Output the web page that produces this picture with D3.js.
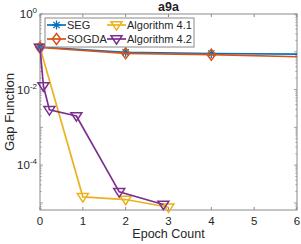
<!DOCTYPE html>
<html>
<head>
<meta charset="utf-8">
<script src="https://cdn.jsdelivr.net/npm/d3@7"></script>
<style>
  body { margin: 0; background: #fff; }
  text { font-family: "Liberation Sans", Arial, sans-serif; fill: #262626; }
</style>
</head>
<body>
<div id="chart"></div>
<script>
const W = 301, H = 244;
const M = { top: 14, right: 4, bottom: 34, left: 40 };

// data
const segEpoch = [0, 2, 4, 6];
const segGap = [0.134, 0.097, 0.09, 0.087];

const sogdaEpoch = [0, 2, 4, 6];
const sogdaGap = [0.13, 0.091, 0.084, 0.074];

const alg41Epoch = [0, 1, 2, 3];
const alg41Gap = [0.13, 1.45e-5, 1.23e-5, 7.7e-6];

const alg42Epoch = [0, 0.08, 0.22, 0.85, 1.85, 2.88];
const alg42Gap = [0.13, 0.0124, 2.9e-3, 2.0e-3, 1.96e-5, 9.1e-6];

const xTicks = [0, 1, 2, 3, 4, 5, 6];
const yLabelExp = [0, -2, -4];

const series = [
  { name: "SEG", color: "#0072BD", marker: "star", x: segEpoch, y: segGap },
  { name: "SOGDA", color: "#D95319", marker: "diamond", x: sogdaEpoch, y: sogdaGap },
  { name: "Algorithm 4.1", color: "#EDB120", marker: "tri", x: alg41Epoch, y: alg41Gap },
  { name: "Algorithm 4.2", color: "#7E2F8E", marker: "tri", x: alg42Epoch, y: alg42Gap }
];

const svg = d3.select("#chart").append("svg")
  .attr("width", W).attr("height", H);

const x = d3.scaleLinear().domain([0, 6]).range([M.left, W - M.right]);
const y = d3.scaleLog().domain([1, 6.5e-6]).range([M.top, H - M.bottom]);

const x0 = x.range()[0], x1 = x.range()[1];
const y0 = y.range()[0], y1 = y.range()[1];

svg.append("defs").append("clipPath").attr("id", "clip")
  .append("rect").attr("x", x0).attr("y", y0).attr("width", x1 - x0).attr("height", y1 - y0);

// axes box
const axCol = "#8a8a8a";
svg.append("rect").attr("x", x0).attr("y", y0).attr("width", x1 - x0).attr("height", y1 - y0)
  .attr("fill", "none").attr("stroke", axCol).attr("stroke-width", 1);

// x ticks (inside, top and bottom)
xTicks.forEach(t => {
  svg.append("line").attr("x1", x(t)).attr("x2", x(t)).attr("y1", y1).attr("y2", y1 - 3)
    .attr("stroke", axCol);
  svg.append("line").attr("x1", x(t)).attr("x2", x(t)).attr("y1", y0).attr("y2", y0 + 3)
    .attr("stroke", axCol);
  svg.append("text").attr("x", x(t)).attr("y", y1 + 15)
    .attr("text-anchor", "middle").attr("font-size", 11.5).text(t);
});

// y ticks, major and minor, log
for (let e = 0; e >= -6; e--) {
  for (let k = 1; k <= 9; k++) {
    const v = k * Math.pow(10, e);
    if (v > 1 || v < 6.5e-6) continue;
    const len = k === 1 ? 3 : 1.6;
    svg.append("line").attr("x1", x0).attr("x2", x0 + len).attr("y1", y(v)).attr("y2", y(v))
      .attr("stroke", axCol).attr("stroke-width", 0.8);
    svg.append("line").attr("x1", x1).attr("x2", x1 - len).attr("y1", y(v)).attr("y2", y(v))
      .attr("stroke", axCol).attr("stroke-width", 0.8);
  }
}

yLabelExp.forEach(e => {
  const t = svg.append("text").attr("x", x0 - 3).attr("y", y(Math.pow(10, e)) + 4)
    .attr("text-anchor", "end").attr("font-size", 11.5);
  t.append("tspan").text("10");
  t.append("tspan").attr("font-size", 8).attr("dy", -5).text(e);
});

// title and axis labels
svg.append("text").attr("x", (x0 + x1) / 2).attr("y", 11)
  .attr("text-anchor", "middle").attr("font-size", 12.5).attr("font-weight", "bold").text("a9a");
svg.append("text").attr("x", (x0 + x1) / 2).attr("y", 238)
  .attr("text-anchor", "middle").attr("font-size", 12.5).text("Epoch Count");
svg.append("text").attr("transform", `translate(14,${(y0 + y1) / 2}) rotate(-90)`)
  .attr("text-anchor", "middle").attr("font-size", 13).text("Gap Function");

// markers
function drawMarker(g, kind, cx, cy, color) {
  if (kind === "star") {
    const r = 4.5, d = r * 0.7;
    g.append("path")
      .attr("d", `M${cx - r},${cy}L${cx + r},${cy}M${cx},${cy - r}L${cx},${cy + r}` +
        `M${cx - d},${cy - d}L${cx + d},${cy + d}M${cx - d},${cy + d}L${cx + d},${cy - d}`)
      .attr("stroke", color).attr("stroke-width", 1.3).attr("fill", "none");
  } else if (kind === "diamond") {
    const r = 5.5;
    g.append("path")
      .attr("d", `M${cx},${cy - r}L${cx + r * 0.75},${cy}L${cx},${cy + r}L${cx - r * 0.75},${cy}Z`)
      .attr("stroke", color).attr("stroke-width", 1.5).attr("fill", "none");
  } else {
    const r = 5.5;
    g.append("path")
      .attr("d", `M${cx - r},${cy - r * 0.6}L${cx + r},${cy - r * 0.6}L${cx},${cy + r * 0.95}Z`)
      .attr("stroke", color).attr("stroke-width", 1.5).attr("fill", "none")
      .attr("stroke-linejoin", "miter");
  }
}

const line = d3.line().x(d => x(d[0])).y(d => y(d[1]));
const plot = svg.append("g");

series.forEach(s => {
  const pts = s.x.map((v, i) => [v, s.y[i]]);
  plot.append("path").datum(pts).attr("d", line)
    .attr("fill", "none").attr("stroke", s.color).attr("stroke-width", 1.7)
    .attr("clip-path", "url(#clip)");
  // markers at the right edge are not shown in the reference
  pts.filter(p => p[0] < 6).forEach(p => drawMarker(plot, s.marker, x(p[0]), y(p[1]), s.color));
});

// legend
const lg = svg.append("g");
lg.append("rect").attr("x", 45).attr("y", 18).attr("width", 149).attr("height", 29)
  .attr("fill", "#fff").attr("stroke", axCol).attr("stroke-width", 1);
const legPos = [[47, 25], [47, 39], [107, 25], [107, 39]];
series.forEach((s, i) => {
  const [lx, ly] = legPos[i];
  lg.append("line").attr("x1", lx).attr("x2", lx + 19).attr("y1", ly).attr("y2", ly)
    .attr("stroke", s.color).attr("stroke-width", 1.7);
  drawMarker(lg, s.marker, lx + 9.5, ly, s.color);
  lg.append("text").attr("x", lx + 20).attr("y", ly + 4).attr("font-size", 11).text(s.name);
});
</script>
</body>
</html>
